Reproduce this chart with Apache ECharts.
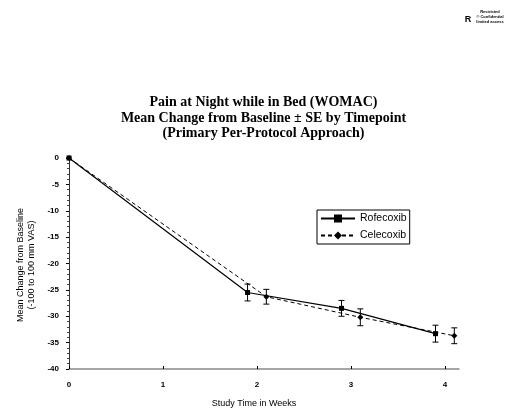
<!DOCTYPE html>
<html><head><meta charset="utf-8">
<script src="https://cdn.jsdelivr.net/npm/echarts@6/dist/echarts.min.js"></script>
<style>html,body{margin:0;padding:0;background:#fff}#c{width:527px;height:411px}</style>
</head><body><div id="c"></div>
<script>
const titleLines = ['Pain at Night while in Bed (WOMAC)', 'Mean Change from Baseline \u00b1 SE by Timepoint', '(Primary Per-Protocol Approach)'];
const yTitleLines = ['Mean Change from Baseline', '(-100 to 100 mm VAS)'];
const xTitle = 'Study Time in Weeks';
const seriesNames = ['Rofecoxib', 'Celecoxib'];
const rofWeeks = [0, 1.9, 2.9, 3.9];
const rofMean = [0, -25.5, -28.5, -33.3];
const rofSE = [0, 1.6, 1.5, 1.6];
const celWeeks = [0, 2.1, 3.1, 4.1];
const celMean = [0, -26.3, -30.2, -33.7];
const celSE = [0, 1.4, 1.6, 1.5];
const xTicks = [0, 1, 2, 3, 4];

const chart = echarts.init(document.getElementById('c'), null, {renderer: 'canvas'});
function pts(w, m) { return w.map((x, i) => [x, m[i]]); }
function errData(w, m, s) { return w.map((x, i) => [x, m[i] - s[i], m[i] + s[i]]).filter((d, i) => s[i] > 0); }
function errRender(params, api) {
  const x = api.value(0);
  const lo = api.coord([x, api.value(1)]);
  const hi = api.coord([x, api.value(2)]);
  const c = 3;
  const st = {stroke: '#000', lineWidth: 1};
  return {type: 'group', children: [
    {type: 'line', shape: {x1: lo[0], y1: lo[1], x2: hi[0], y2: hi[1]}, style: st},
    {type: 'line', shape: {x1: lo[0] - c, y1: lo[1], x2: lo[0] + c, y2: lo[1]}, style: st},
    {type: 'line', shape: {x1: hi[0] - c, y1: hi[1], x2: hi[0] + c, y2: hi[1]}, style: st}
  ]};
}
const axisFont = {fontFamily: 'Liberation Sans', fontWeight: 'bold', fontSize: 8, color: '#000'};
chart.setOption({
  animation: false,
  backgroundColor: '#fff',
  title: {
    text: titleLines.join('\n'), left: 'center', top: 90,
    textStyle: {fontFamily: 'Liberation Serif', fontWeight: 'bold', fontSize: 14, lineHeight: 15.5, color: '#000'}
  },
  grid: {left: 69, top: 158, right: 68, bottom: 42},
  legend: {
    orient: 'vertical', left: 317, top: 210, itemGap: 6, itemWidth: 34, itemHeight: 10,
    padding: [3, 3, 3, 3], borderColor: '#000', borderWidth: 1, borderRadius: 0,
    textStyle: {fontFamily: 'Liberation Sans', fontSize: 10.5, color: '#000'},
    data: seriesNames
  },
  xAxis: {
    type: 'value', min: 0, max: 4.15,
    axisLine: {show: true, onZero: false, lineStyle: {color: '#888', width: 1.5}},
    axisTick: {show: true, inside: true, length: 3, lineStyle: {color: '#000'}, customValues: xTicks},
    axisLabel: Object.assign({margin: 12, customValues: xTicks}, axisFont),
    splitLine: {show: false}
  },
  yAxis: {
    type: 'value', min: -40, max: 0, interval: 5,
    axisLine: {show: true, onZero: false, lineStyle: {color: '#333', width: 1}},
    axisTick: {show: true, length: 3, lineStyle: {color: '#000'}},
    minorTick: {show: true, splitNumber: 5, length: 2, lineStyle: {color: '#444'}},
    axisLabel: Object.assign({margin: 10}, axisFont),
    splitLine: {show: false}
  },
  graphic: [
    {type: 'text', x: 26, y: 265, rotation: Math.PI / 2,
     style: {text: yTitleLines.join('\n'), fontFamily: 'Liberation Sans', fontSize: 9, lineHeight: 11, fill: '#000', align: 'center', verticalAlign: 'middle'}},
    {type: 'text', x: 254, y: 404,
     style: {text: xTitle, fontFamily: 'Liberation Sans', fontSize: 9, fill: '#000', align: 'center', verticalAlign: 'middle'}},
    {type: 'text', x: 468, y: 20,
     style: {text: 'R', fontFamily: 'Liberation Sans', fontWeight: 'bold', fontSize: 9, fill: '#000', align: 'center', verticalAlign: 'middle'}},
    {type: 'text', x: 490, y: 17,
     style: {text: 'Restricted\n\u00a9 Confidential\nlimited access', fontFamily: 'Liberation Sans', fontWeight: 'bold', fontSize: 4, lineHeight: 5, fill: '#000', align: 'center', verticalAlign: 'middle'}}
  ],
  series: [
    {name: seriesNames[0], type: 'line', data: pts(rofWeeks, rofMean), symbol: 'rect', symbolSize: 5,
     lineStyle: {color: '#000', width: 1.2}, itemStyle: {color: '#000'}, z: 3},
    {name: seriesNames[1], type: 'line', data: pts(celWeeks, celMean), symbol: 'diamond', symbolSize: 6,
     lineStyle: {color: '#000', width: 1, type: [4, 3]}, itemStyle: {color: '#000'}, z: 3},
    {type: 'custom', data: errData(rofWeeks, rofMean, rofSE), renderItem: errRender, z: 2, silent: true},
    {type: 'custom', data: errData(celWeeks, celMean, celSE), renderItem: errRender, z: 2, silent: true}
  ]
});
</script></body></html>
